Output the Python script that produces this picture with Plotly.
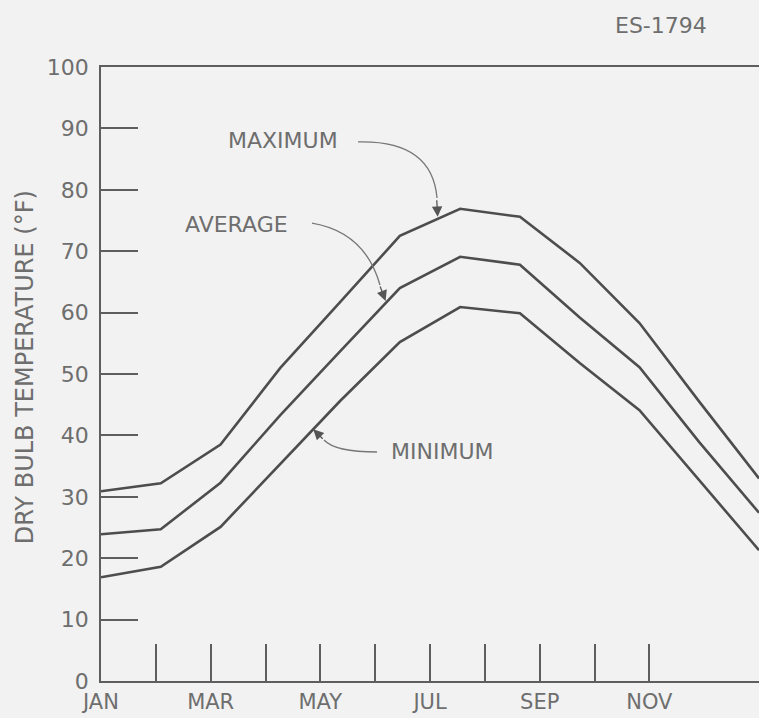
import plotly.graph_objects as go

# ---- data ----
month_labels = ["JAN", "", "MAR", "", "MAY", "", "JUL", "", "SEP", "", "NOV"]
month_ticks = [0, 1, 2, 3, 4, 5, 6, 7, 8, 9, 10]
# positions of the plotted points (in month units from start of JAN)
point_x = [0, 1.09, 2.18, 3.27, 4.36, 5.45, 6.55, 7.64, 8.73, 9.82, 10.91, 12.0]
maximum = [30.9, 32.2, 38.5, 51.0, 61.7, 72.5, 76.9, 75.6, 68.1, 58.3, 45.5, 33.0]
average = [23.9, 24.7, 32.3, 43.3, 53.7, 64.0, 69.1, 67.8, 59.2, 51.1, 38.9, 27.4]
minimum = [16.9, 18.6, 25.1, 35.3, 45.6, 55.2, 60.9, 59.9, 51.8, 44.1, 32.7, 21.3]
y_ticks = [0, 10, 20, 30, 40, 50, 60, 70, 80, 90, 100]

BG = "#f2f2f2"
LINE = "#4d4d4d"
AX = "#5e5e5e"
TXT = "#6e6e6e"
FONT = "DejaVu Sans"

fig = go.Figure()
for name, vals in [("MAXIMUM", maximum), ("AVERAGE", average), ("MINIMUM", minimum)]:
    fig.add_trace(go.Scatter(x=point_x, y=vals, mode="lines", name=name,
                             line=dict(color=LINE, width=2.6), showlegend=False,
                             cliponaxis=False))

# curved leader lines
curve_style = dict(type="path", xref="x", yref="y", line=dict(color="#777777", width=1.3))
fig.add_shape(path="M 4.687,87.79 Q 6.037,88.11 6.128,78.66", **curve_style)
fig.add_shape(path="M 3.848,74.59 Q 4.815,73.13 5.088,64.5", **curve_style)
fig.add_shape(path="M 5.034,37.30 Q 4.268,37.30 4.067,39.25", **curve_style)

arrow = dict(showarrow=True, arrowhead=2, arrowsize=1.6, arrowwidth=1.3,
             arrowcolor="#555555", text="", xref="x", yref="y", axref="pixel", ayref="pixel")
fig.add_annotation(x=6.14, y=75.6, ax=-1, ay=-18, **arrow)
fig.add_annotation(x=5.19, y=61.9, ax=-6, ay=-16, **arrow)
fig.add_annotation(x=3.87, y=41.0, ax=11, ay=11, **arrow)

lab = dict(showarrow=False, xref="x", yref="y", xanchor="center", yanchor="middle",
           font=dict(family=FONT, size=22, color=TXT))
fig.add_annotation(x=3.319, y=88.1, text="MAXIMUM", **lab)
fig.add_annotation(x=2.462, y=74.4, text="AVERAGE", **lab)
fig.add_annotation(x=6.219, y=37.3, text="MINIMUM", **lab)

fig.add_annotation(x=0.851, y=1.068, xref="paper", yref="paper", text="ES-1794",
                   xanchor="center", yanchor="middle", showarrow=False,
                   font=dict(family=FONT, size=22, color=TXT))
fig.add_annotation(x=-0.1155, y=0.511, xref="paper", yref="paper",
                   text="DRY BULB TEMPERATURE (°F)", textangle=-90, showarrow=False,
                   xanchor="center", yanchor="middle",
                   font=dict(family=FONT, size=24, color=TXT))

fig.update_layout(
    width=759, height=718,
    margin=dict(l=101, r=0, t=67, b=37, autoexpand=False),
    paper_bgcolor=BG, plot_bgcolor=BG,
    font=dict(family=FONT, color=TXT),
)
fig.update_xaxes(range=[0, 12], tickvals=month_ticks, ticktext=month_labels,
                 ticks="inside", ticklen=37, tickwidth=1.6, tickcolor=AX,
                 showline=True, linecolor=AX, linewidth=1.8, mirror=True,
                 showgrid=False, zeroline=False, ticklabelstandoff=1, automargin=False,
                 tickfont=dict(family=FONT, size=21, color=TXT))
fig.update_yaxes(range=[0, 100], tickvals=y_ticks,
                 ticks="inside", ticklen=37, tickwidth=1.6, tickcolor=AX,
                 showline=True, linecolor=AX, linewidth=1.8, automargin=False,
                 showgrid=False, zeroline=False, ticklabelstandoff=6,
                 tickfont=dict(family=FONT, size=22, color=TXT))

fig.write_html("out.html", config={"displayModeBar": False},
               post_script="document.body.style.margin='0';document.body.style.background='%s';" % BG)
